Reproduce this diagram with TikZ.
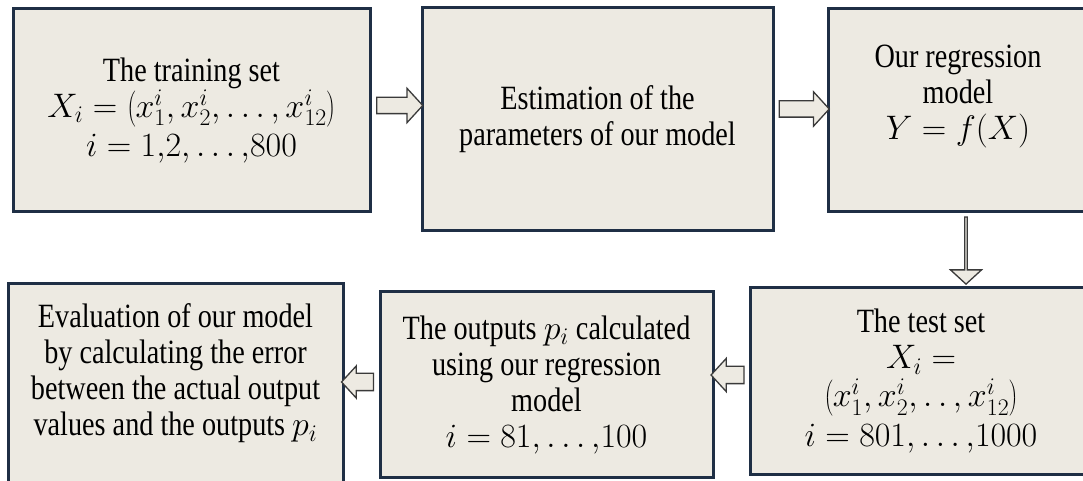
\documentclass[tikz,border=0pt]{standalone}
\usepackage{fix-cm}
\usepackage{fontspec}
\setmainfont{Liberation Serif}[FakeStretch=0.83]
\usetikzlibrary{shapes.arrows,calc}
\definecolor{boxline}{HTML}{1F2F45}
\definecolor{boxfill}{HTML}{EDEAE2}
\definecolor{arrline}{HTML}{3A3A3A}
\tikzset{
  box/.style = {draw=boxline, line width=3pt, fill=boxfill, align=center,
                inner sep=0pt, font=\fontsize{34}{36}\selectfont},
  blk/.style = {single arrow, draw=arrline, line width=1.3pt, fill=boxfill,
                inner xsep=0pt, inner ysep=7.5pt, single arrow tip angle=95,
                single arrow head extend=9pt}
}
\begin{document}
\begin{tikzpicture}[x=1pt, y=1pt]
  \clip (0,0) rectangle (1083,481);
  % top row
  \node[box, minimum width=357pt, minimum height=203pt] (train) at (191.5,370.5)
    {The training set\\
     $X_i = \left(x_1^i, x_2^i, \ldots, x_{12}^i\right)$\\[3pt]
     $i = 1{,}2, \ldots{,}800$};
  \node[box, minimum width=351pt, minimum height=223pt] (estim) at (597.5,361.5)
    {Estimation of the\\parameters of our model};
  \node[box, minimum width=260pt, minimum height=203pt] (regr) at (958,370.5)
    {Our regression\\model\\$Y = f(X)$\\ \mbox{}};
  % bottom row
  \node[box, minimum width=342pt, minimum height=187pt] (test) at (921,99.5)
    {The test set\\$X_i =$\\[2pt]
     $\left(x_1^i, x_2^i,.\,.\,, x_{12}^i\right)$\\[4pt]
     $i = 801, \ldots{,}1000$};
  \node[box, minimum width=333pt, minimum height=186pt] (outputs) at (546.5,96)
    {The outputs $p_i$ calculated\\using our regression\\model\\
     $i = 81, \ldots{,}100$};
  \node[box, minimum width=335pt, minimum height=208pt] (eval) at (175.5,93)
    {Evaluation of our model\\by calculating the error\\
     between the actual output\\values and the outputs $p_i$\\ \mbox{}};
  % block arrows
  \node[blk, minimum width=33pt, minimum height=46pt] (a1)
    at ($(train.east)!.5!(estim.west |- train.east)+(0,5)$) {};
  \node[blk, minimum width=34pt, minimum height=50pt] (a2)
    at ($(estim.east |- regr.west)!.5!(regr.west)+(0,1.5)$) {};
  \node[blk, minimum width=31pt, minimum height=67pt, inner ysep=8.5pt,
        single arrow head extend=7pt, shape border rotate=270] (a3)
    at ($(regr.south)!.5!(regr.south |- test.north)+(8,0)$) {};
  \node[blk, minimum width=32pt, minimum height=33pt, inner ysep=8pt,
        single arrow head extend=8pt, shape border rotate=180] (a4)
    at ($(outputs.east |- test.west)!.5!(test.west)+(0,6.5)$) {};
  \node[blk, minimum width=31pt, minimum height=32pt, inner ysep=8pt,
        single arrow head extend=7.5pt, shape border rotate=180] (a5)
    at ($(eval.east |- outputs.west)!.5!(outputs.west)+(0,3)$) {};
\end{tikzpicture}
\end{document}
